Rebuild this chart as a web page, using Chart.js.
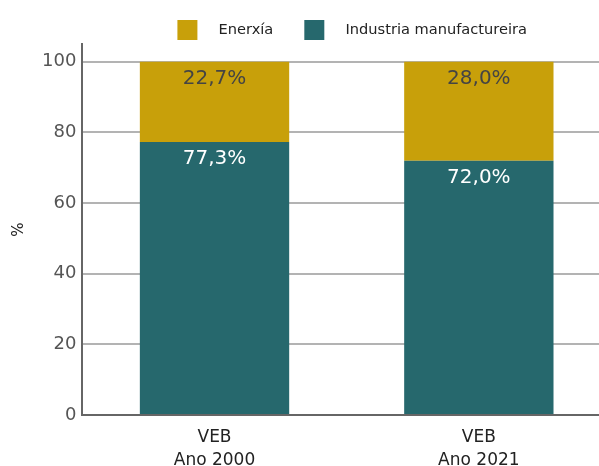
<!DOCTYPE html>
<html>
<head>
<meta charset="utf-8">
<script src="https://cdn.jsdelivr.net/npm/chart.js@4.4.1/dist/chart.umd.min.js"></script>
<style>
  html, body { margin: 0; padding: 0; background: #fff; overflow: hidden; }
  #wrap { width: 611px; height: 466px; }
</style>
</head>
<body>
<div id="wrap"><canvas id="grafico"></canvas></div>
<script>
// Datos
const categorias = [['VEB', 'Ano 2000'], ['VEB', 'Ano 2021']];
const industria = [77.3, 72.0];
const enerxia = [22.7, 28.0];
const yTicks = [0, 20, 40, 60, 80, 100];

const FONT = "'DejaVu Sans', Verdana, sans-serif";

function fmt(v) {
    return v.toFixed(1).replace('.', ',') + '%';
}

// Etiquetas dentro de las barras, arriba de cada segmento
const etiquetas = {
    id: 'etiquetas',
    afterDatasetsDraw(chart) {
        const ctx = chart.ctx;
        ctx.save();
        ctx.font = '20px ' + FONT;
        ctx.textAlign = 'center';
        ctx.textBaseline = 'middle';
        chart.data.datasets.forEach((ds, i) => {
            const meta = chart.getDatasetMeta(i);
            meta.data.forEach((bar, j) => {
                ctx.fillStyle = ds.labelColor;
                ctx.fillText(fmt(ds.data[j]), bar.x, bar.y + 17);
            });
        });
        ctx.restore();
    }
};

// Leyenda: menos espacio debajo y centrada sobre el área del gráfico
const leyendaAjuste = {
    id: 'leyendaAjuste',
    beforeLayout(chart) {
        const lg = chart.legend;
        if (!lg || lg._ajustada) return;
        const fit = lg.fit.bind(lg);
        lg.fit = function () {
            fit();
            this.height -= 6;
        };
        lg._ajustada = true;
    },
    beforeDraw(chart) {
        const lg = chart.legend;
        if (!lg) return;
        lg.left = chart.chartArea.left + 11;
        lg.right = chart.chartArea.right;
        lg.adjustHitBoxes();
    }
};

new Chart(document.getElementById('grafico'), {
    type: 'bar',
    data: {
        labels: categorias,
        datasets: [
            {
                label: '   Industria manufactureira',
                data: industria,
                backgroundColor: '#26686D',
                labelColor: '#ffffff'
            },
            {
                label: '   Enerxía',
                data: enerxia,
                backgroundColor: '#C8A00A',
                labelColor: '#444444'
            }
        ]
    },
    options: {
        responsive: true,
        maintainAspectRatio: false,
        animation: false,
        barPercentage: 0.565,
        categoryPercentage: 1,
        layout: { padding: { top: -11, right: 0, left: 0, bottom: -17 } },
        plugins: {
            legend: {
                reverse: true,
                labels: {
                    boxWidth: 20,
                    boxHeight: 20,
                    padding: 31,
                    color: '#222',
                    font: { family: FONT, size: 14.6 }
                }
            },
            tooltip: { enabled: false }
        },
        scales: {
            x: {
                stacked: true,
                grid: { display: false, drawTicks: false },
                border: { display: true, color: '#666', width: 2 },
                ticks: {
                    color: '#222',
                    padding: 11,
                    font: { family: FONT, size: 17, lineHeight: 1.35 }
                }
            },
            y: {
                stacked: true,
                min: 0,
                max: 105,
                afterBuildTicks: (axis) => {
                    axis.ticks = yTicks.map(v => ({ value: v }));
                },
                grid: { color: '#b3b3b3', lineWidth: 2, drawTicks: false },
                border: { display: true, color: '#666', width: 2 },
                ticks: {
                    color: '#555',
                    padding: 6,
                    font: { family: FONT, size: 18 }
                },
                title: {
                    display: true,
                    text: '%',
                    color: '#222',
                    padding: { top: 10, bottom: 8 },
                    font: { family: FONT, size: 15 }
                }
            }
        }
    },
    plugins: [etiquetas, leyendaAjuste]
});
</script>
</body>
</html>
